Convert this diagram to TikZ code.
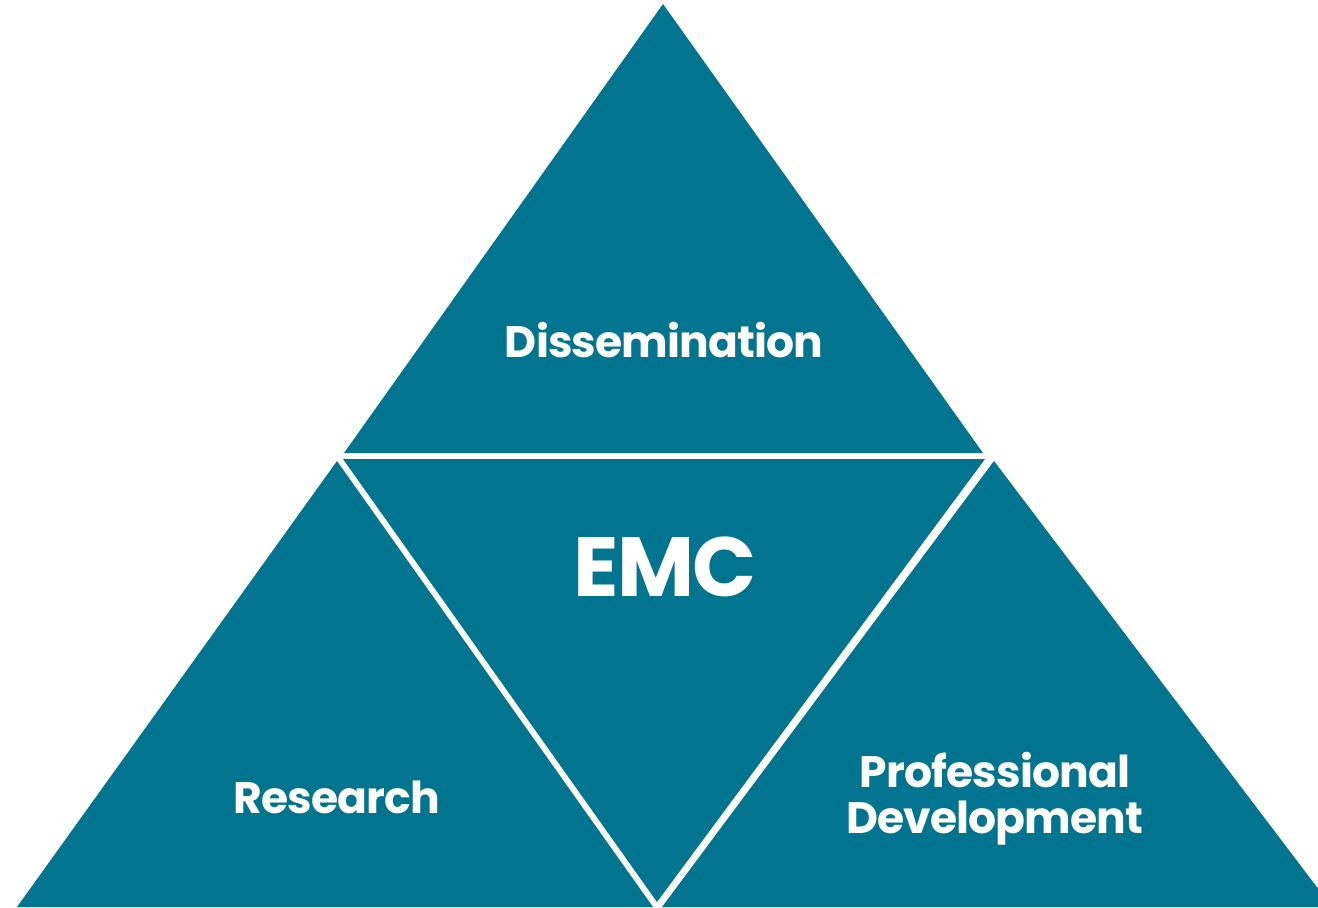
\documentclass[tikz,border=0pt]{standalone}
\usepackage{fontspec}
\setmainfont{Poppins}[LetterSpace=-2]
\definecolor{emcteal}{RGB}{1,116,143}
\tikzset{
  part/.style={fill=emcteal},
  lbl/.style={text=white,font=\bfseries\fontsize{22}{23}\selectfont,align=center,inner sep=0pt},
  hub/.style={text=white,font=\bfseries\fontsize{42}{42}\selectfont,inner sep=0pt}
}
\begin{document}
\begin{tikzpicture}[x=0.5pt,y=-0.5pt]
    \useasboundingbox (0,0) rectangle (1318,907);
    \clip (0,0) rectangle (1318,907);
    % outer triangles and the inverted middle one
    \fill[part] (663,4) -- (983,453) -- (344,453) -- cycle;
    \fill[part] (343,459) -- (985,459) -- (657,902) -- cycle;
    \fill[part] (337,461) -- (653,907) -- (17,907) -- cycle;
    \fill[part] (994,461) -- (1332,907) -- (662,907) -- cycle;
    \node[lbl] (dissem) at (664,340) {Dissemination};
    \node[hub] (emc) at (665,567) {EMC};
    \node[lbl] (research) at (337,797) {Research};
    \node[lbl] (profdev) at (995,799) {Professional\\Development};
  \end{tikzpicture}
\end{document}
